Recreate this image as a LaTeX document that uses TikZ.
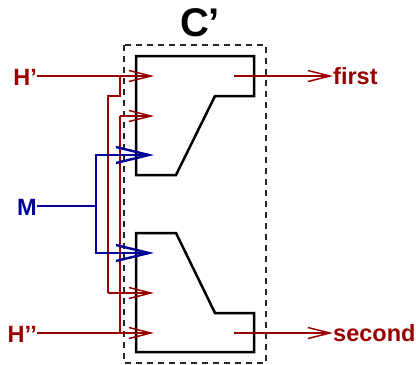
\documentclass[tikz,border=0pt]{standalone}
\usepackage{fontspec}
\setmainfont{Liberation Sans}
\usetikzlibrary{arrows.meta,positioning}
\definecolor{sigred}{RGB}{153,0,0}
\definecolor{sigblue}{RGB}{0,0,153}

\begin{document}
\begin{tikzpicture}[x=1pt,y=-1pt,
  sig/.style={font=\fontsize{23.5}{24}\selectfont\bfseries, inner sep=0pt},
  block/.style={draw=black, line width=2.5pt, line join=miter},
  redarr/.style={sigred, line width=2.4pt,
    -{Straight Barb[length=22pt,width=11pt,line width=1.5pt]}},
  redwire/.style={sigred, line width=2.4pt},
  bluearr/.style={sigblue, line width=2.4pt,
    -{Straight Barb[length=33pt,width=16pt,line width=2.4pt]}},
  bluewire/.style={sigblue, line width=2.4pt}
]
\useasboundingbox (0,0) rectangle (416,365);

% dashed frame and title
\draw[gray!30!black, line width=1.4pt, dash pattern=on 6pt off 5pt]
  (124,45) rectangle (266,363);
\node[sig, font=\fontsize{40}{40}\selectfont\bfseries, anchor=base]
  (title) at (200,36.5) {C’};

% the two blocks
\draw[block] (136,56) -- (254,56) -- (254,96) -- (215,96) -- (176,175)
  -- (136,175) -- cycle;
\draw[block] (136,233) -- (176,233) -- (215,313) -- (254,313) -- (254,352)
  -- (136,352) -- cycle;

% input and output labels
\node[sig, sigred, anchor=base east] (hp) at (37,85) {H’};
\node[sig, sigblue, anchor=base east] (m) at (37,215) {M};
\node[sig, sigred, anchor=base east] (hpp) at (37,342) {H’’};
\node[sig, sigred, anchor=base west] (first) at (333,84.5) {first};
\node[sig, sigred, anchor=base west] (second) at (333,341) {second};

% input ports
\coordinate (in1) at (154,76);
\coordinate (in2) at (154,116);
\coordinate (in3) at (154,155);
\coordinate (in4) at (154,253);
\coordinate (in5) at (154,293);
\coordinate (in6) at (154,333);
\coordinate (out1) at (234,76);
\coordinate (out2) at (234,333);

% H' feeds both blocks
\draw[redarr] (hp.east |- in1) -- (in1);
\draw[redwire] (120,76) -- (120,96) -- (108,96) -- (108,293);
\draw[redarr] (108,293) -- (in5);

% H'' feeds both blocks
\draw[redarr] (hpp.east |- in6) -- (in6);
\draw[redwire] (120,333) -- (120,116);
\draw[redarr] (120,116) -- (in2);

% M controls both blocks
\draw[bluewire] (m.east |- 0,206) -- (96,206);
\draw[bluearr] (96,206) |- (in3);
\draw[bluearr] (96,206) |- (in4);

% outputs
\draw[redarr] (out1) -- (first.west |- out1);
\draw[redarr] (out2) -- (second.west |- out2);
\end{tikzpicture}
\end{document}
